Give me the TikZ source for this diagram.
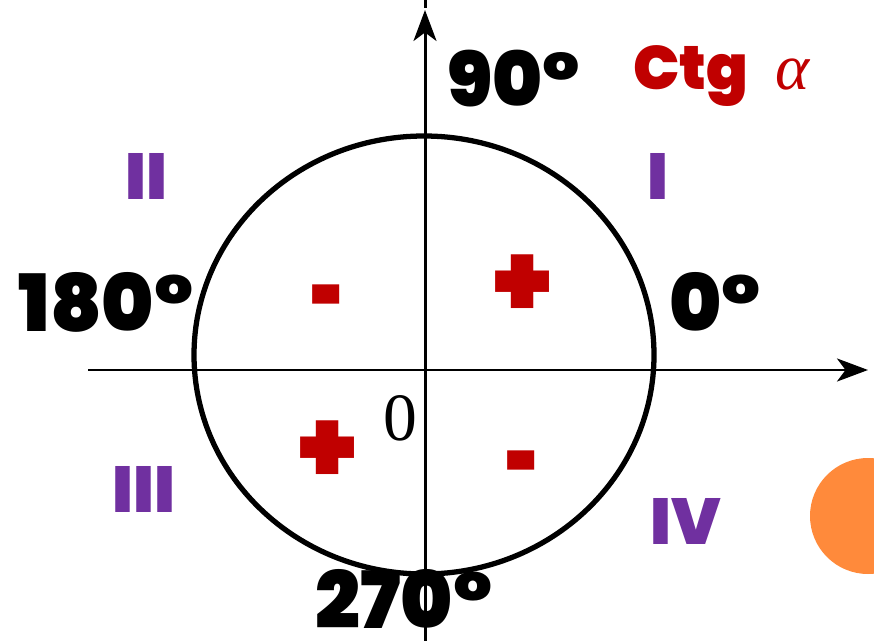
\documentclass[tikz,border=0pt]{standalone}
\usepackage{fontspec}
\usetikzlibrary{arrows.meta}
\newfontfamily\heavy{Poppins Black}
\newfontfamily\serif{Liberation Serif}
\definecolor{dodam}{HTML}{C00000}
\definecolor{tim}{HTML}{7030A0}
\definecolor{cam}{HTML}{FF8A3B}
\tikzset{
  truc/.style={line width=1.7pt, -{Stealth[length=0.62cm, width=0.46cm, inset=0.17cm]}},
  goc/.style={inner sep=0, font=\heavy\fontsize{45}{45}\selectfont},
  phantu/.style={inner sep=0, text=tim, font=\heavy\fontsize{37}{37}\selectfont},
  dau/.style={inner sep=0, text=dodam, font=\heavy\fontsize{60}{60}\selectfont}
}
\begin{document}
\begin{tikzpicture}[x=0.02cm, y=-0.02cm]
        \useasboundingbox (0,0) rectangle (874,641);

        % Hình tròn màu cam
        \fill[cam] (868,516) circle (58);

        % Đường tròn lượng giác
        \draw[line width=3pt] (424,355) ellipse (230 and 219);

        % Hai trục
        \coordinate (xl) at (88,370);
        \coordinate (xr) at (868,370);
        \coordinate (yd) at (425,641);
        \coordinate (yt) at (425,10);
        \coordinate (yc) at (425,0);
        \draw[truc] (xl) -- (xr);
        \draw[truc] (yd) -- (yt);
        \draw[line width=1.7pt] (yc) -- ++(0,8);

        % Các góc
        \node[goc, font=\heavy\fontsize{43}{43}\selectfont] (g90) at (514,79) {90°};
        \node[goc] (g180) at (106,302) {180°};
        \node[goc] (g0) at (715,302) {0°};
        \node[goc] (g270) at (404,599) {270°};
        \node[inner sep=0, font=\serif\fontsize{38.5}{38.5}\selectfont] (goc0) at (400,418) {0};

        % Tiêu đề
        \node[inner sep=0, anchor=base west, text=dodam, font=\heavy\fontsize{35}{35}\selectfont] (ctg) at (633,90)
          {Ctg\hspace{0.45em}{\serif\itshape\fontsize{37}{37}\selectfont α}};

        % Các góc phần tư
        \node[phantu] (q1) at (658,176) {I};
        \node[phantu] (q2) at (146,176) {II};
        \node[phantu] (q3) at (144,489) {III};
        \node[phantu] (q4) at (686,521) {IV};

        % Dấu của cotang
        \node[dau] (d1) at (523,286) {+};
        \node[dau] (d2) at (328,308) {\scalebox{0.55}[1]{-}};
        \node[dau] (d3) at (328,452) {+};
        \node[dau] (d4) at (523,474) {\scalebox{0.55}[1]{-}};
\end{tikzpicture}
\end{document}
